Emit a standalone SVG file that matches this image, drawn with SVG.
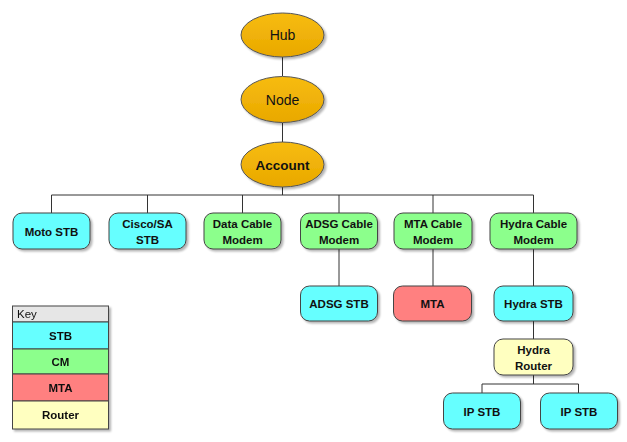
<svg xmlns="http://www.w3.org/2000/svg" width="627" height="442" viewBox="0 0 627 442">
<defs>
<linearGradient id="gold" x1="0" y1="0" x2="0" y2="1">
<stop offset="0" stop-color="#F7BC10"/>
<stop offset="1" stop-color="#E9A800"/>
</linearGradient>
<filter id="sh" x="-10%" y="-10%" width="130%" height="140%">
<feGaussianBlur in="SourceAlpha" stdDeviation="1.2"/>
<feOffset dx="1.5" dy="2" result="b"/>
<feComponentTransfer><feFuncA type="linear" slope="0.3"/></feComponentTransfer>
<feMerge><feMergeNode/><feMergeNode in="SourceGraphic"/></feMerge>
</filter>
</defs>
<style>
text{font-family:"Liberation Sans",Arial,sans-serif;text-anchor:middle;fill:#111}
.b{font-weight:bold;font-size:11.5px}
.e{font-size:14px}
.eb{font-size:13.5px;font-weight:bold}
ellipse{fill:url(#gold);stroke:#555;stroke-width:1;filter:url(#sh)}
.n{stroke:#444;stroke-width:1;filter:url(#sh)}
.stb{fill:#66FFFF}
.cm{fill:#8CFF8C}
.mta{fill:#FF8080}
.rt{fill:#FFFFC0}
.c{fill:none;stroke:#333;stroke-width:1}
.k{stroke:#444;stroke-width:1}
</style>
<g id="connectors">
<path class="c" d="M282.5 57V76M282.5 123V142M282.5 187V195M51.5 195H533.5M51.5 195V213M147.5 195V213M242.5 195V213M339 195V213M433 195V213M533.5 195V213M339 249V286M433 249V286M533.5 249V286M533.5 321V339M533.5 375V384M482 384H578.5M482 384V393M578.5 384V393"/>
</g>
<g id="hub"><ellipse cx="282.5" cy="35" rx="41.5" ry="22"/><text class="e" x="282.5" y="40">Hub</text></g>
<g id="node"><ellipse cx="282.5" cy="99.5" rx="41.5" ry="23"/><text class="e" x="282.5" y="104.5">Node</text></g>
<g id="account"><ellipse cx="282.5" cy="164.5" rx="41.5" ry="22.5"/><text class="eb" x="282.5" y="169.5">Account</text></g>
<g id="moto"><rect class="n stb" x="13" y="213" width="77" height="36" rx="9"/><text class="b" x="51.5" y="235.5">Moto STB</text></g>
<g id="cisco"><rect class="n stb" x="109" y="213" width="77" height="36" rx="9"/><text class="b" x="147.5" y="227.5">Cisco/SA</text><text class="b" x="147.5" y="243.5">STB</text></g>
<g id="datacm"><rect class="n cm" x="204" y="213" width="77" height="36" rx="9"/><text class="b" x="242.5" y="227.5">Data Cable</text><text class="b" x="242.5" y="243.5">Modem</text></g>
<g id="adsgcm"><rect class="n cm" x="300.5" y="213" width="77" height="36" rx="9"/><text class="b" x="339" y="227.5">ADSG Cable</text><text class="b" x="339" y="243.5">Modem</text></g>
<g id="mtacm"><rect class="n cm" x="394" y="213" width="78" height="36" rx="9"/><text class="b" x="433" y="227.5">MTA Cable</text><text class="b" x="433" y="243.5">Modem</text></g>
<g id="hydracm"><rect class="n cm" x="490" y="213" width="87" height="36" rx="9"/><text class="b" x="533.5" y="227.5">Hydra Cable</text><text class="b" x="533.5" y="243.5">Modem</text></g>
<g id="adsgstb"><rect class="n stb" x="300.5" y="286" width="77" height="35" rx="9"/><text class="b" x="339" y="307.5">ADSG STB</text></g>
<g id="mta"><rect class="n mta" x="393.5" y="286" width="78" height="35" rx="9"/><text class="b" x="432.5" y="307.5">MTA</text></g>
<g id="hydrastb"><rect class="n stb" x="494" y="286" width="79" height="35" rx="9"/><text class="b" x="533.5" y="307.5">Hydra STB</text></g>
<g id="router"><rect class="n rt" x="494" y="339" width="79" height="36" rx="9"/><text class="b" x="533.5" y="353.5">Hydra</text><text class="b" x="533.5" y="369.5">Router</text></g>
<g id="ipstb1"><rect class="n stb" x="443.5" y="393" width="77" height="36" rx="9"/><text class="b" x="482" y="415.5">IP STB</text></g>
<g id="ipstb2"><rect class="n stb" x="540.5" y="393" width="77" height="36" rx="9"/><text class="b" x="579" y="415.5">IP STB</text></g>
<g id="key" filter="url(#sh)">
<rect class="k" x="12.5" y="306" width="96" height="16" fill="#E6E6E6"/>
<rect class="k" x="12.5" y="322" width="96" height="27" fill="#66FFFF"/>
<rect class="k" x="12.5" y="349" width="96" height="25" fill="#8CFF8C"/>
<rect class="k" x="12.5" y="374" width="96" height="27" fill="#FF8080"/>
<rect class="k" x="12.5" y="401" width="96" height="28" fill="#FFFFC0"/>
<text x="17" y="318" style="text-anchor:start;font-size:11.5px">Key</text>
<text class="b" x="60.5" y="339.5">STB</text>
<text class="b" x="60.5" y="365.5">CM</text>
<text class="b" x="60.5" y="391.5">MTA</text>
<text class="b" x="60.5" y="419">Router</text>
</g>
</svg>
